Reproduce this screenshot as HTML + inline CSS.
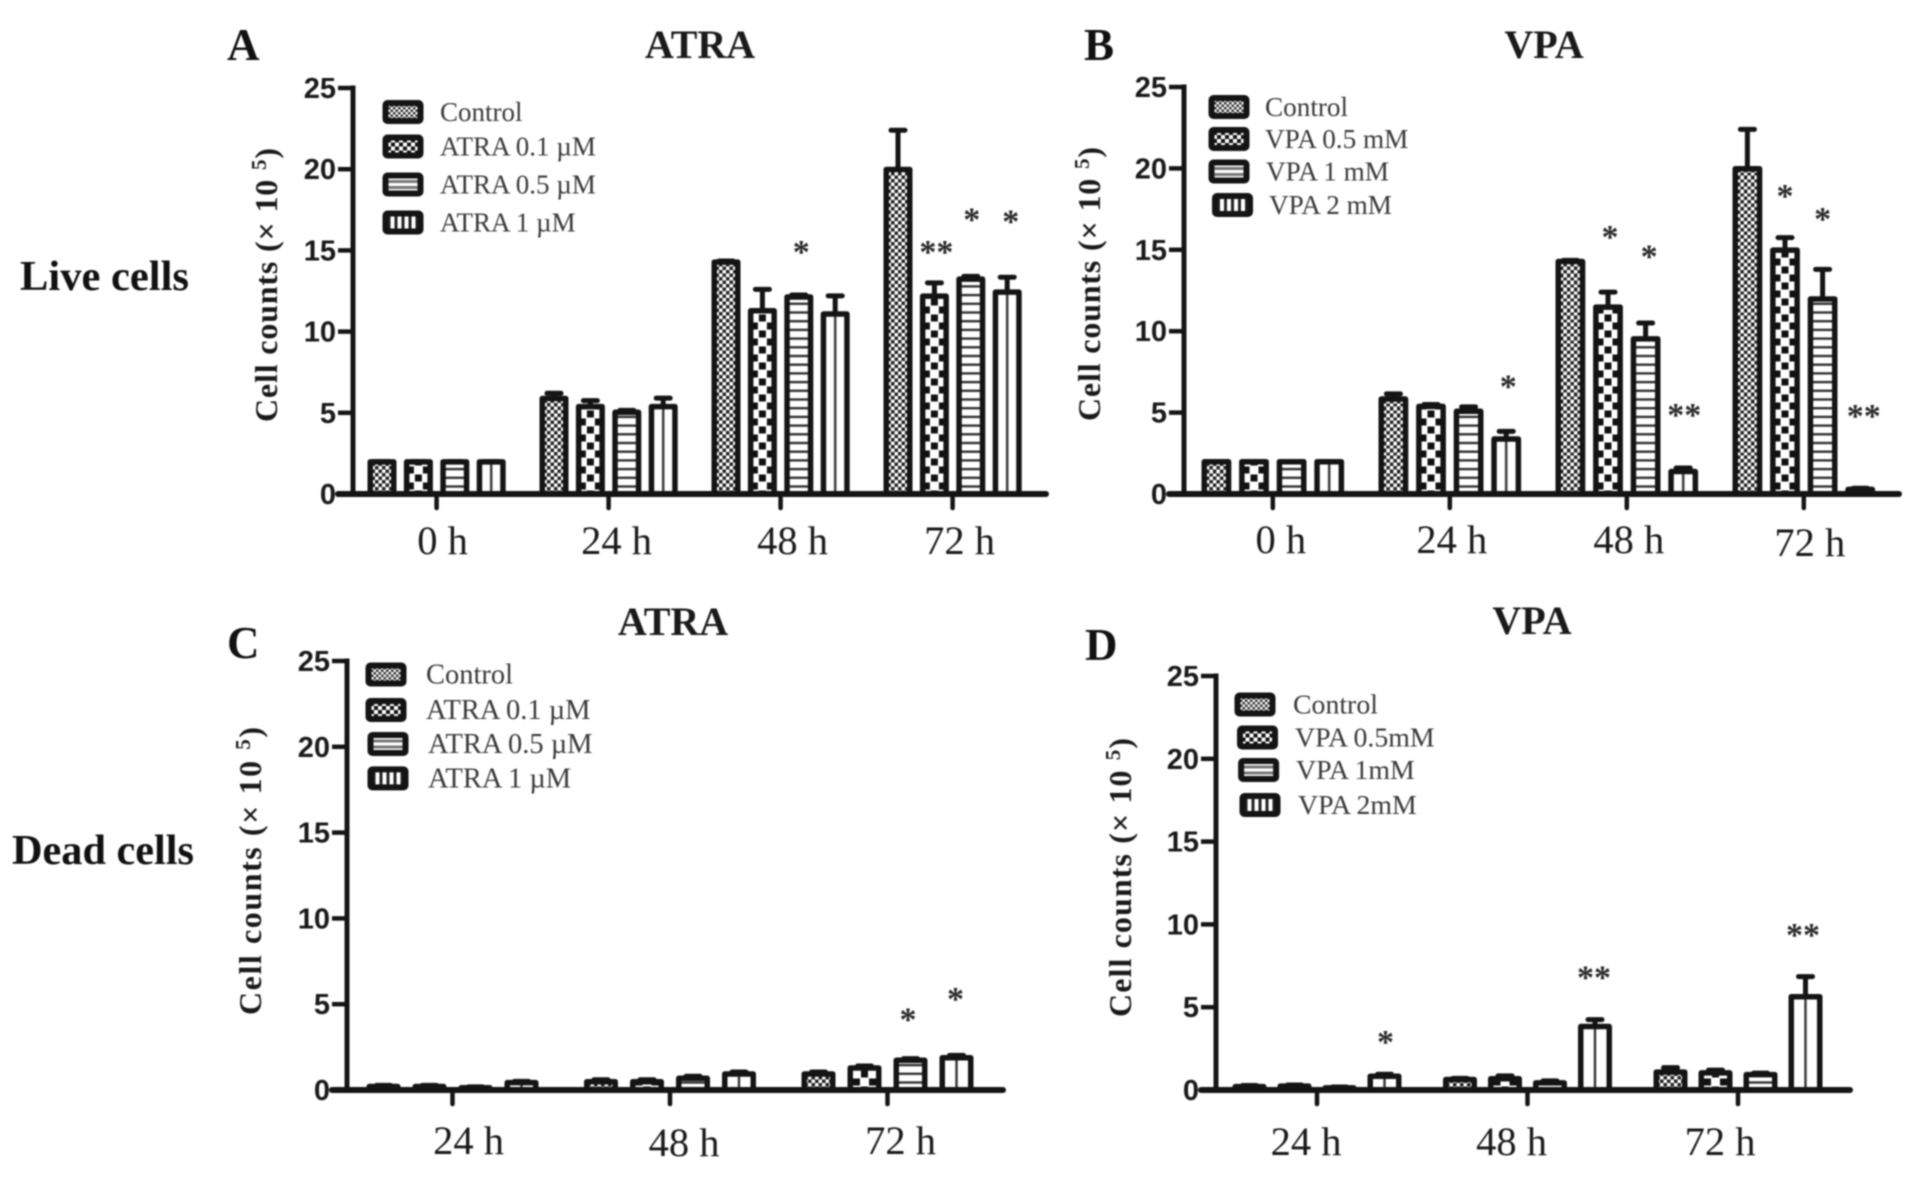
<!DOCTYPE html>
<html lang="en">
<head>
<meta charset="utf-8">
<title>Live and dead cell counts under ATRA and VPA</title>
<style>
html,body{margin:0;padding:0;background:#fff;}
#figure{display:block;width:1913px;height:1178px;filter:blur(0.75px);}
text{font-family:"Liberation Serif",serif;}
.tick{font-family:"Liberation Sans",sans-serif;font-weight:700;font-size:29px;fill:#1a1a1a;}
.xl{font-size:40.5px;fill:#1a1a1a;}
.leg{fill:#3a3a3a;}
.title{font-size:40px;font-weight:700;fill:#1a1a1a;}
.letter{font-size:45px;font-weight:700;fill:#111;}
.side{font-size:42px;font-weight:700;fill:#111;}
.ytitle{font-size:32px;font-weight:700;fill:#1a1a1a;}
.star{font-size:34px;font-weight:700;fill:#2a2a2a;}
</style>
</head>
<body>
<svg id="figure" xmlns="http://www.w3.org/2000/svg" width="1913" height="1178" viewBox="0 0 1913 1178">
<defs>
  <pattern id="p-fine" patternUnits="userSpaceOnUse" width="7" height="7"><rect width="7" height="7" fill="#fff"/><rect x="0" y="0" width="3.5" height="3.5" fill="#222"/><rect x="3.5" y="3.5" width="3.5" height="3.5" fill="#222"/></pattern>
  <pattern id="p-check" patternUnits="userSpaceOnUse" width="16" height="16"><rect width="16" height="16" fill="#fff"/><rect x="0" y="0" width="3.5" height="3.5" fill="#111"/><rect x="12.5" y="0" width="3.5" height="3.5" fill="#111"/><rect x="0" y="12.5" width="3.5" height="3.5" fill="#111"/><rect x="12.5" y="12.5" width="3.5" height="3.5" fill="#111"/><rect x="4.5" y="4.5" width="7" height="7" fill="#111"/></pattern>
  <pattern id="p-hor" patternUnits="userSpaceOnUse" width="8.7" height="8.7"><rect width="8.7" height="8.7" fill="#fff"/><rect y="0" width="8.7" height="2.4" fill="#333"/></pattern>
  <pattern id="p-ver" patternUnits="userSpaceOnUse" width="15" height="15"><rect width="15" height="15" fill="#fff"/><rect x="0" width="1.2" height="15" fill="#333"/><rect x="13.8" width="1.2" height="15" fill="#333"/></pattern>
  <pattern id="l-fine" patternUnits="userSpaceOnUse" width="5" height="5"><rect width="5" height="5" fill="#fff"/><rect width="2.5" height="2.5" fill="#333"/><rect x="2.5" y="2.5" width="2.5" height="2.5" fill="#333"/></pattern>
  <pattern id="l-check" patternUnits="userSpaceOnUse" width="8" height="8"><rect width="8" height="8" fill="#fff"/><rect x="0" y="0" width="4" height="4" fill="#111"/><rect x="4" y="4" width="4" height="4" fill="#111"/></pattern>
  <pattern id="l-hor" patternUnits="userSpaceOnUse" width="8" height="6"><rect width="8" height="6" fill="#fff"/><rect y="1.5" width="8" height="3" fill="#777"/></pattern>
  <pattern id="l-ver" patternUnits="userSpaceOnUse" width="7" height="7"><rect width="7" height="7" fill="#fff"/><rect x="0" width="1.5" height="7" fill="#222"/><rect x="5.5" width="1.5" height="7" fill="#222"/></pattern>
</defs>

<text class="side" x="20" y="290" textLength="169" lengthAdjust="spacingAndGlyphs">Live cells</text>
<text class="side" x="12" y="864" textLength="182" lengthAdjust="spacingAndGlyphs">Dead cells</text>

<text class="letter" x="227" y="60">A</text>
<text class="letter" x="1084" y="60">B</text>
<text class="letter" x="227" y="658">C</text>
<text class="letter" x="1085" y="660">D</text>

<text class="title" x="700" y="58" text-anchor="middle">ATRA</text>
<text class="title" x="1544" y="58" text-anchor="middle">VPA</text>
<text class="title" x="673" y="635" text-anchor="middle">ATRA</text>
<text class="title" x="1532" y="634" text-anchor="middle">VPA</text>

<text class="ytitle" transform="translate(277,422) rotate(-90)" textLength="274">Cell counts (× 10 <tspan font-size="21" dy="-11">5</tspan><tspan dy="11">)</tspan></text>
<text class="ytitle" transform="translate(1100,421) rotate(-90)" textLength="274">Cell counts (× 10 <tspan font-size="21" dy="-11">5</tspan><tspan dy="11">)</tspan></text>
<text class="ytitle" transform="translate(261,1015) rotate(-90)" textLength="288">Cell counts (× 10 <tspan font-size="21" dy="-11">5</tspan><tspan dy="11">)</tspan></text>
<text class="ytitle" transform="translate(1131,1017) rotate(-90)" textLength="279">Cell counts (× 10 <tspan font-size="21" dy="-11">5</tspan><tspan dy="11">)</tspan></text>

<g id="charts"></g>
</svg>

<script>
// ---- shared axis data ----
const yTickValues = [0, 5, 10, 15, 20, 25];
const categoriesLive = ['0 h', '24 h', '48 h', '72 h'];
const categoriesDead = ['24 h', '48 h', '72 h'];

// ---- panel A: live cells, ATRA ----
const aSeriesNames = ['Control', 'ATRA 0.1 µM', 'ATRA 0.5 µM', 'ATRA 1 µM'];
const aControl = [2, 5.9, 14.3, 20];
const aDose01 = [2, 5.4, 11.3, 12.2];
const aDose05 = [2, 5.05, 12.15, 13.25];
const aDose1 = [2, 5.4, 11.1, 12.45];
const aControlErr = [0, 0.3, 0.05, 2.4];
const aDose01Err = [0, 0.35, 1.3, 0.8];
const aDose05Err = [0, 0.1, 0.1, 0.15];
const aDose1Err = [0, 0.5, 1.1, 0.9];
const aStarGroups = [2, 3, 3, 3];
const aStarSeries = [2, 1, 2, 3];
const aStarLabels = ['*', '**', '*', '*'];
const aStarValues = [15.2, 15.2, 17.2, 17.1];

// ---- panel B: live cells, VPA ----
const bSeriesNames = ['Control', 'VPA 0.5 mM', 'VPA 1 mM', 'VPA 2 mM'];
const bControl = [2, 5.85, 14.3, 20];
const bDose05 = [2, 5.4, 11.5, 15];
const bDose1 = [2, 5.1, 9.55, 12];
const bDose2 = [2, 3.4, 1.4, 0.3];
const bControlErr = [0, 0.3, 0.05, 2.4];
const bDose05Err = [0, 0.1, 0.9, 0.75];
const bDose1Err = [0, 0.25, 0.95, 1.8];
const bDose2Err = [0, 0.45, 0.2, 0.05];
const bStarGroups = [1, 2, 2, 2, 3, 3, 3];
const bStarSeries = [3, 1, 2, 3, 1, 2, 3];
const bStarLabels = ['*', '*', '*', '**', '*', '*', '**'];
const bStarValues = [6.9, 16.1, 14.9, 5.15, 18.6, 17.2, 5.1];

// ---- panel C: dead cells, ATRA ----
const cSeriesNames = ['Control', 'ATRA 0.1 µM', 'ATRA 0.5 µM', 'ATRA 1 µM'];
const cControl = [0.22, 0.5, 0.95];
const cDose01 = [0.22, 0.5, 1.3];
const cDose05 = [0.15, 0.7, 1.75];
const cDose1 = [0.45, 0.95, 1.9];
const cControlErr = [0.05, 0.1, 0.1];
const cDose01Err = [0.05, 0.1, 0.1];
const cDose05Err = [0.03, 0.1, 0.08];
const cDose1Err = [0.05, 0.1, 0.12];
const cStarGroups = [2, 2];
const cStarSeries = [2, 3];
const cStarLabels = ['*', '*'];
const cStarValues = [4.4, 5.6];

// ---- panel D: dead cells, VPA ----
const dSeriesNames = ['Control', 'VPA 0.5mM', 'VPA 1mM', 'VPA 2mM'];
const dControl = [0.22, 0.65, 1.1];
const dDose05 = [0.25, 0.7, 1.05];
const dDose1 = [0.15, 0.45, 0.95];
const dDose2 = [0.85, 3.85, 5.65];
const dControlErr = [0.05, 0.05, 0.25];
const dDose05Err = [0.05, 0.15, 0.15];
const dDose1Err = [0.03, 0.1, 0.07];
const dDose2Err = [0.1, 0.4, 1.2];
const dStarGroups = [0, 1, 2];
const dStarSeries = [3, 3, 3];
const dStarLabels = ['*', '**', '**'];
const dStarValues = [3.2, 7.1, 9.66];

const SVG_NS = 'http://www.w3.org/2000/svg';
const INK = '#141414';
const barFills = ['url(#p-fine)', 'url(#p-check)', 'url(#p-hor)', 'url(#p-ver)'];
const legendFills = ['url(#l-fine)', 'url(#l-check)', 'url(#l-hor)', 'url(#l-ver)'];
const seriesKeys = ['control', 'dose-low', 'dose-mid', 'dose-high'];

function shape(parent, tag, attrs) {
  const el = document.createElementNS(SVG_NS, tag);
  for (const k in attrs) el.setAttribute(k, attrs[k]);
  parent.appendChild(el);
  return el;
}

function drawPanel(p) {
  const root = document.getElementById('charts');
  const g = shape(root, 'g', {});
  
  

  const yScale = v => p.y0 - v * (p.y0 - p.yTop) / 25;
  const groupLeft = i => p.start + i * p.groupStep;
  const barLeft = (i, s) => groupLeft(i) + s * p.barStep;
  const tickX = i => groupLeft(i) + (3 * p.barStep + p.barW) / 2;

  // bars and error bars
  p.series.forEach((vals, s) => {
    vals.forEach((v, i) => {
      const cx = barLeft(i, s) + p.barW / 2;
      const top = yScale(v + p.errors[s][i]);
      const stem = shape(g, 'line', {x1: cx, x2: cx, y1: top, y2: yScale(v), stroke: INK, 'stroke-width': 5});
      
      
      const cap = shape(g, 'line', {x1: cx - 7, x2: cx + 7, y1: top, y2: top, stroke: INK, 'stroke-width': 5, 'stroke-linecap': 'round'});
      
      
      const sw = 5.5;
      const innerW = p.barW - sw;
      const h = Math.max(0, p.y0 - yScale(v) - 0.3);
      const bar = shape(g, 'rect', {
        x: -innerW / 2, y: -h, width: innerW, height: h,
        transform: 'translate(' + cx + ',' + p.y0 + ')',
        fill: barFills[s], stroke: INK, 'stroke-width': sw, 'stroke-linejoin': 'round'
      });
      
      
    });
  });

  // y axis
  const yAxis = shape(g, 'line', {x1: p.axisX, x2: p.axisX, y1: p.yTop - 2.5, y2: p.y0, stroke: INK, 'stroke-width': 5});
  
  
  yTickValues.forEach(t => {
    const y = yScale(t);
    const tick = shape(g, 'line', {x1: p.axisX - 15, x2: p.axisX, y1: y, y2: y, stroke: INK, 'stroke-width': 4.5});
    
    
    const label = shape(g, 'text', {x: p.axisX - 17, y: y + 10, 'text-anchor': 'end', class: 'tick'});
    
    
    label.textContent = t;
  });

  // x axis
  const xAxis = shape(g, 'line', {x1: p.axisX - 15, x2: p.axisEnd, y1: p.y0, y2: p.y0, stroke: INK, 'stroke-width': 6, 'stroke-linecap': 'round'});
  
  
  p.categories.forEach((c, i) => {
    const x = tickX(i);
    const tick = shape(g, 'line', {x1: x, x2: x, y1: p.y0, y2: p.y0 + 14, stroke: INK, 'stroke-width': 4.5, 'stroke-linecap': 'round'});
    
    
    const label = shape(g, 'text', {x: x + p.labelShift[i], y: p.labelY[i], 'text-anchor': 'middle', class: 'xl'});
    
    
    label.textContent = c;
  });

  // significance stars
  p.starLabels.forEach((lab, n) => {
    const x = barLeft(p.starGroups[n], p.starSeries[n]) + p.barW / 2 + p.starShift[n];
    const star = shape(g, 'text', {x: x, y: yScale(p.starValues[n]) + 16, 'text-anchor': 'middle', class: 'star'});
    
    
    star.textContent = lab;
  });

  // legend
  p.names.forEach((name, s) => {
    const row = p.legend[s];
    const entry = shape(g, 'g', {});
    
    
    const swatch = shape(entry, 'rect', {
      x: -17.5, y: -9, width: 35, height: 18,
      transform: 'translate(' + (row.sx + 20) + ',' + row.y + ')',
      fill: legendFills[s], stroke: INK, 'stroke-width': 6, rx: 2
    });
    
    
    const text = shape(entry, 'text', {x: row.tx, y: row.y + 9, class: 'leg', 'font-size': p.legendSize});
    
    
    text.textContent = name;
  });
}

drawPanel({
  id: 'a', categories: categoriesLive, names: aSeriesNames,
  series: [aControl, aDose01, aDose05, aDose1],
  errors: [aControlErr, aDose01Err, aDose05Err, aDose1Err],
  starGroups: aStarGroups, starSeries: aStarSeries, starLabels: aStarLabels, starValues: aStarValues,
  starShift: [2.5, 2, 1, 3.5], legendSize: 27,
  axisX: 353, axisEnd: 1046, y0: 494, yTop: 88,
  start: 367.5, groupStep: 172, barStep: 36.4, barW: 29,
  labelShift: [6, 8, 12, 7], labelY: [554, 554, 554, 554],
  legend: [{sx: 383, tx: 440, y: 112}, {sx: 383, tx: 440, y: 146.5}, {sx: 383, tx: 440, y: 184.5}, {sx: 383, tx: 440, y: 222.5}]
});
drawPanel({
  id: 'b', categories: categoriesLive, names: bSeriesNames,
  series: [bControl, bDose05, bDose1, bDose2],
  errors: [bControlErr, bDose05Err, bDose1Err, bDose2Err],
  starGroups: bStarGroups, starSeries: bStarSeries, starLabels: bStarLabels, starValues: bStarValues,
  starShift: [2, 2, 3.5, 1, 0, 0, 3.5], legendSize: 27.2,
  axisX: 1184, axisEnd: 1899, y0: 494, yTop: 87,
  start: 1201.5, groupStep: 177, barStep: 37.6, barW: 29.8,
  labelShift: [8, 2, 2, 6], labelY: [553, 553, 553, 556],
  legend: [{sx: 1209, tx: 1265, y: 107}, {sx: 1209, tx: 1265, y: 139}, {sx: 1209, tx: 1266, y: 171.5}, {sx: 1212.5, tx: 1269, y: 205}]
});
drawPanel({
  id: 'c', categories: categoriesDead, names: cSeriesNames,
  series: [cControl, cDose01, cDose05, cDose1],
  errors: [cControlErr, cDose01Err, cDose05Err, cDose1Err],
  starGroups: cStarGroups, starSeries: cStarSeries, starLabels: cStarLabels, starValues: cStarValues,
  starShift: [-2.5, -1], legendSize: 28.5,
  axisX: 347, axisEnd: 1003, y0: 1090, yTop: 661,
  start: 366.5, groupStep: 217.5, barStep: 46, barW: 34,
  labelShift: [16, 14, 13], labelY: [1154, 1156, 1154],
  legend: [{sx: 366, tx: 426, y: 674.5}, {sx: 366, tx: 426, y: 710}, {sx: 368, tx: 428, y: 744}, {sx: 368, tx: 428, y: 778.4}]
});
drawPanel({
  id: 'd', categories: categoriesDead, names: dSeriesNames,
  series: [dControl, dDose05, dDose1, dDose2],
  errors: [dControlErr, dDose05Err, dDose1Err, dDose2Err],
  starGroups: dStarGroups, starSeries: dStarSeries, starLabels: dStarLabels, starValues: dStarValues,
  starShift: [1, -1, -2.5], legendSize: 27.8,
  axisX: 1216, axisEnd: 1850, y0: 1090, yTop: 676,
  start: 1232.5, groupStep: 210.5, barStep: 45, barW: 34,
  labelShift: [-11, -16, -18], labelY: [1155, 1155, 1155],
  legend: [{sx: 1235, tx: 1293, y: 704.5}, {sx: 1237.5, tx: 1295, y: 737.5}, {sx: 1238.6, tx: 1296, y: 770}, {sx: 1240, tx: 1298, y: 805}]
});
</script>
</body>
</html>
